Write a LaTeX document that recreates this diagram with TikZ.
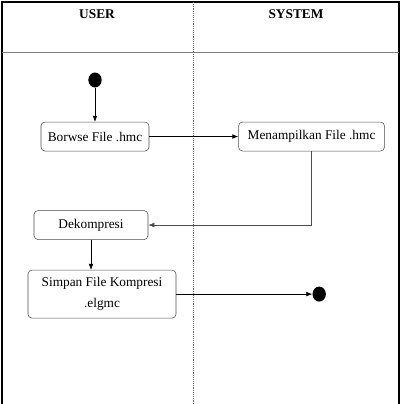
\documentclass[tikz,border=0pt]{standalone}
\usepackage{fontspec}
\setmainfont{Liberation Serif}
\usepackage{tikz}
\usetikzlibrary{shapes.geometric, arrows.meta, positioning}
\tikzstyle{activity} = [rectangle, rounded corners=3pt, minimum width=81pt, minimum height=21.75pt, text centered, draw=black!70, font=\fontsize{10}{15.75}\selectfont]
\tikzstyle{dot} = [ellipse, fill=black, minimum width=10pt, minimum height=11.25pt, inner sep=0pt]
\tikzstyle{lanetitle} = [font=\bfseries]
\tikzstyle{arrow} = [->, >={Latex[length=4.5pt,width=3.5pt]}]

\begin{document}
\begin{tikzpicture}[x=0.75pt, y=0.75pt]
    \useasboundingbox (0,0) rectangle (403,-404);
    % swimlanes
    \draw[line width=1.1pt] (2,-404) -- (2,-2) -- (399,-2) -- (399,-404);
    \draw[black!50, thin] (2,-52) -- (399,-52);
    \draw[black!60, densely dotted] (193,-2) -- (193,-404);
    \node[lanetitle] (user) at (97,-14) {USER};
    \node[lanetitle] (system) at (296,-14) {SYSTEM};

    \node[dot] (start) at (95,-80) {};
    \node[activity, below=25.5pt of start] (browse) {Borwse File .hmc};
    \node[activity, right=66.75pt of browse, minimum width=109.5pt] (show) {Menampilkan File .hmc};
    \node[activity, below=44.25pt of browse, xshift=-3pt, minimum width=85.5pt] (decomp) {Dekompresi};
    \node[activity, below=22.5pt of decomp, xshift=8.25pt, minimum width=111pt, minimum height=36pt, align=center] (save) {Simpan File Kompresi\\.elgmc};
    \node[dot, right=102pt of save] (finish) {};

    \draw[arrow] (start) -- (browse);
    \draw[arrow] (browse) -- (show);
    \draw[arrow, black!70] (show.south) |- (decomp.east);
    \draw[arrow] (decomp.south) -- (decomp.south |- save.north);
    \draw[arrow] (save) -- (finish);
\end{tikzpicture}
\end{document}
